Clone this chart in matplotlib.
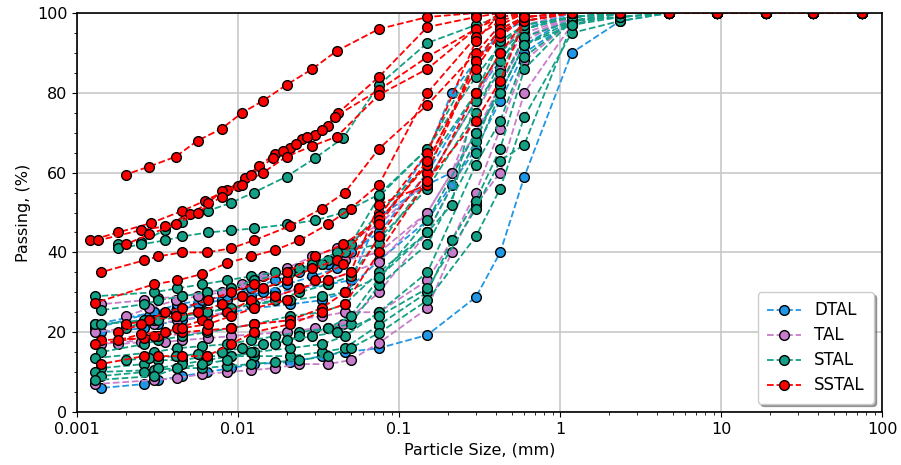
import numpy as np
import matplotlib
matplotlib.use("Agg")
import matplotlib.pyplot as plt
from matplotlib.ticker import FixedLocator, MultipleLocator

# sieve sizes (mm)
COARSE = [75, 37.5, 19, 9.5]
COARSE_PASSING = [100, 100, 100, 100]
SIEVE = [4.75, 2.36, 1.18, 0.6, 0.425, 0.3, 0.212, 0.15, 0.075]

# hydrometer particle sizes (mm)
HYD_A = [0.046, 0.033, 0.021, 0.0125, 0.009, 0.0064, 0.0045, 0.0032, 0.0026, 0.0014]
HYD_B = [0.041, 0.029, 0.020, 0.0143, 0.0106, 0.0079, 0.0056, 0.0041, 0.0028, 0.0020]
HYD_C = [0.050, 0.036, 0.024, 0.017, 0.012, 0.0085, 0.006, 0.0042, 0.003, 0.0013]
HYD_F = [0.045, 0.030, 0.020, 0.0125, 0.009, 0.0065, 0.0045, 0.0035, 0.0025, 0.0018]
HYD_D = [0.042, 0.036, 0.030, 0.025, 0.021, 0.017, 0.0135, 0.011, 0.0085, 0.0062,
         0.0045, 0.0029, 0.0018, 0.0012]
HYD_E = [0.040, 0.033, 0.027, 0.023, 0.019, 0.0165, 0.012, 0.010, 0.008, 0.0065,
         0.005, 0.0035, 0.0025, 0.00135]
HYD_SETS = {"A": HYD_A, "B": HYD_B, "C": HYD_C, "D": HYD_D, "E": HYD_E, "F": HYD_F}

nan = np.nan

# DTAL
DTAL_SET = ["A", "C", "B", "A", "C"]
DTAL_SIEVE = [
    [100, 98, 90, 59, 40, 28.8, nan, 19.3, 16],
    [100, 100, 99, 92, 80, 70, 60, 57, 49],
    [100, 100, 100, 98, 95, 88, 80, 65, 47],
    [100, 100, 98, 90, 78, 66, 57, 48, 38],
    [100, 100, 100, 96, 88, 80, nan, 60, 45],
]
DTAL_HYD = [
    [15, 14, 12.5, 12, 11, 10, 9, 8, 7, 6],
    [33, 32, 31, 30, 29, 28, 27.5, 26, 25, 21],
    [36, 34, 32, 30, 29, 28, 27, 25, 24, 22],
    [30, 28, 27, 26, 25, 24, 23, 22, 21, 20],
    [40, 37, 35, 33, 31, 29, 28, 27, 25, 22],
]

# TAL
TAL_SET = ["C", "A", "C", "B", "A", "F"]
TAL_SIEVE = [
    [100, 100, 97, 80, 60, 52, 40, 26, 17.3],
    [100, 100, 98, 88, 71, 55, 43, 33, 25],
    [100, 100, 99, 93, 82, 70, nan, 50, 37.6],
    [100, 100, 100, 97, 90, 78, nan, 58, 47],
    [100, 100, 99, 95, 86, 75, 60, 50, 40],
    [100, 100, 99, 94, 82, 68, nan, 45, 30],
]
TAL_HYD = [
    [13, 12, 12, 11, 10.5, 10, 9.5, 8.5, 8, 7],
    [25, 24, 23, 22, 21, 20, 19.5, 19, 18, 17],
    [35, 33, 31, 29, 27, 25, 24, 23, 22, 20],
    [41, 39, 36, 34, 32, 30, 29, 28, 26, 24],
    [38, 37, 35, 33, 31, 30, 29, 28.5, 28, 27],
    [22, 21, 20, 19.5, 19, 18.5, 18, 17.5, 17.5, 17],
]

# STAL
STAL_SET = ["F", "C", "A", "C", "A", "C", "A", "C", "A", "C", "B", "F", "A", "B"]
STAL_SIEVE = [
    [100, 100, 100, 100, 99, 97, nan, 92.5, 82],
    [100, 100, 99, 97, 92, 84, nan, 66, 54],
    [100, 100, 99, 96, 90, 80, nan, 62, 50],
    [100, 100, 99, 96, 88, 75, nan, 56, 43.5],
    [100, 100, 98, 94, 82, 68, nan, 45, 35],
    [100, 100, 97, 92, 80, 65, nan, 42, 31.8],
    [100, 99, 98, 86, 66, 53, 43, 30, 21.8],
    [100, 98, 95, 74, 56, 44, nan, 28, 19.8],
    [100, 99, 98, 89, 73, 62, nan, 35, 25],
    [100, 100, 98, 92, 80, 70, nan, 48, 33.5],
    [100, 100, 100, 98, 85, 78, nan, 58, 42],
    [100, 100, 100, 99, 96, 88, nan, 66, 54.5],
    [100, 100, 99, 97, 93, 80, 52, 45, 33.8],
    [100, 99, 97, 67, 63, 51, nan, 31, 24],
]
STAL_HYD = [
    [68.7, 63.6, 59, 55, 52.4, 50.4, 47.6, 45.6, 42.5, 42],
    [42, 38, 36, 35, 34, 33, 32, 31, 30, 29],
    [40, 37, 35, 33, 31, 30, 29, 28, 27, 25.5],
    [34, 32, 30, 28, 27, 26, 25, 24, 23, 22],
    [27, 25, 24, 22, 21, 20, 19, 18, 17, 15],
    [22, 21, 20, 19, 18, 17, 16.5, 16, 15, 13.5],
    [16, 15, 14, 14, 14, 14, 13, 13, 12, 11],
    [16, 14, 13, 12.5, 12, 11.5, 11, 11, 10.5, 10],
    [19, 17, 16, 15, 14, 13, 12, 11, 10, 9],
    [24, 21, 19, 17, 15, 13, 12, 11, 9, 8],
    [40, 37, 33, 31, 29, 27, 25, 24, 23, 21],
    [50, 48, 47, 46, 45.5, 45, 44, 43, 42, 41],
    [30, 29, 28, 27, 26, 25, 24, 23, 23, 22],
    [20, 19, 18, 17, 16, 15, 14.5, 14, 13.5, 13],
]

# SSTAL
SSTAL_SET = ["B", "D", "E", "B", "A", "C", "A", "C", "A", "B", "F", "F"]
SSTAL_SIEVE = [
    [100, 100, 100, 100, 100, 100, nan, 99, 96],
    [100, 100, 100, 100, 100, 99, nan, 96.5, 84],
    [100, 100, 100, 100, 99, 96, nan, 89, 80.7],
    [100, 100, 100, 100, 100, 96, nan, 86, 79.5],
    [100, 100, 100, 100, 97, 90, nan, 77, 66],
    [100, 100, 100, 100, 98, 94, nan, 80, 57],
    [100, 100, 100, 99, 94, 88, nan, 60, 44],
    [100, 100, 100, 98, 90, 80, nan, 57, 52],
    [100, 100, 100, 98, 83, 73, nan, 58, 40],
    [100, 100, 100, 100, 100, 93, nan, 65, 49],
    [100, 100, 100, 99, 96, 88, nan, 62, 48],
    [100, 100, 100, 99, 95, 86, nan, 63, 47],
]
SSTAL_HYD = [
    [90.5, 86, 82, 78, 75, 71, 68, 64, 61.5, 59.5],
    [75, 71.7, 69.4, 68.4, 66.2, 64.7, 61.7, 58.6, 55.6, 52.9, 50.4, 47.4, 45, 43],
    [74, 70.7, 69, 67.2, 65.5, 63.7, 59.4, 56.6, 55.4, 52.4, 49.5, 46.5, 45.6, 43],
    [69, 66.7, 64, 60, 57, 54, 50, 47, 44.5, 42],
    [55, 51, 46.6, 43, 41, 40, 40, 39, 38, 35],
    [51, 47, 43, 40.6, 39, 37.3, 34.6, 33, 32, 27.4],
    [30, 26, 23, 22, 21, 20.5, 20, 19, 18.5, 18],
    [35, 33, 31, 29, 28, 25, 23, 21, 19, 17],
    [27, 25, 22, 20, 17, 14, 14, 14, 14, 12],
    [38, 36, 33, 31, 29, 27, 25, 24, 23, 22],
    [42, 39, 35, 32, 30, 28, 26, 25, 22, 20],
    [37, 33, 28, 26, 24, 22, 21, 20, 19.5, 18],
]

GROUPS = [
    ("DTAL", "#1f96e6", DTAL_SET, DTAL_SIEVE, DTAL_HYD),
    ("TAL", "#c77dcb", TAL_SET, TAL_SIEVE, TAL_HYD),
    ("STAL", "#14a085", STAL_SET, STAL_SIEVE, STAL_HYD),
    ("SSTAL", "#ff0000", SSTAL_SET, SSTAL_SIEVE, SSTAL_HYD),
]

fig = plt.figure(figsize=(9.01, 4.65), dpi=100)
ax = fig.add_axes([0.0855, 0.114, 0.8935, 0.858])

for name, color, sets, sieves, hyds in GROUPS:
    for i in range(len(sets)):
        x = np.array(COARSE + SIEVE + HYD_SETS[sets[i]], dtype=float)
        y = np.array(COARSE_PASSING + list(sieves[i]) + list(hyds[i]), dtype=float)
        ok = ~np.isnan(y)
        ax.plot(x[ok], y[ok], "--o", color=color, lw=1.3, ms=7,
                mec="black", mew=1.0, label=name if i == 0 else None)

ax.set_xscale("log")
ax.set_xlim(0.001, 100)
ax.set_ylim(0, 100)
ax.xaxis.set_major_locator(FixedLocator([0.001, 0.01, 0.1, 1, 10, 100]))
ax.set_xticklabels(["0.001", "0.01", "0.1", "1", "10", "100"])
ax.yaxis.set_major_locator(MultipleLocator(20))
ax.yaxis.set_minor_locator(MultipleLocator(5))
ax.tick_params(labelsize=11.5)
ax.grid(True, which="major", color="#c8c8c8", lw=1.2)
ax.set_axisbelow(True)
for s in ax.spines.values():
    s.set_linewidth(1.2)
ax.set_xlabel("Particle Size, (mm)", fontsize=11.5)
ax.set_ylabel("Passing, (%)", fontsize=11.5)
ax.legend(loc="lower right", fontsize=12, shadow=True, borderpad=0.55,
          handlelength=2.0, labelspacing=0.42)

fig.savefig("out.png", dpi=100)
